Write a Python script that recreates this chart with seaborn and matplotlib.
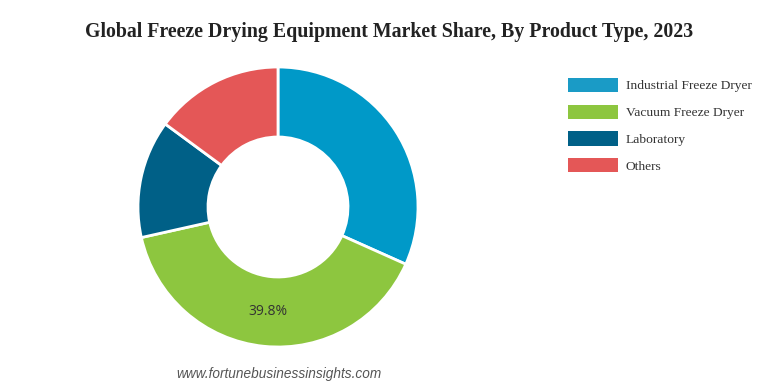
import matplotlib
matplotlib.use("Agg")
import matplotlib.pyplot as plt
import seaborn as sns
from matplotlib.patches import Patch

categories = ["Industrial Freeze Dryer", "Vacuum Freeze Dryer", "Laboratory", "Others"]
shares = [31.7, 39.8, 13.6, 14.9]
colors = ["#0099C8", "#8DC63F", "#006087", "#E45757"]
legend_colors = ["#1A9BC6", "#8DC63F", "#006087", "#E45757"]
shown_labels = ["Vacuum Freeze Dryer"]
title = "Global Freeze Drying Equipment Market Share, By Product Type, 2023"
source = "www.fortunebusinessinsights.com"

sns.set_theme(style="white")
plt.rcParams["font.family"] = ["Liberation Serif", "DejaVu Serif"]

W, H = 778, 387
fig = plt.figure(figsize=(W / 100, H / 100), dpi=100)
fig.patch.set_facecolor("white")

cx, cy, r = 278, 207, 140
ax = fig.add_axes([(cx - r) / W, (H - cy - r) / H, 2 * r / W, 2 * r / H])
ax.axis("off")

pal = sns.color_palette(colors)

def fmt_factory():
    idx = {"i": 0}
    def fmt(p):
        lab = categories[idx["i"]]
        idx["i"] += 1
        return f"{p:.1f}%" if lab in shown_labels else ""
    return fmt

wedges, texts, autotexts = ax.pie(
    shares, colors=pal, startangle=90, counterclock=False, radius=1.0,
    wedgeprops=dict(width=0.5, edgecolor="white", linewidth=2),
    autopct=fmt_factory(), pctdistance=0.75,
    textprops=dict(fontsize=10, color="#333333", family=["Open Sans", "DejaVu Sans"]),
)
ax.set_xlim(-1, 1)
ax.set_ylim(-1, 1)
ax.set_aspect("equal")
ax.axis("off")

fig.text(0.5, 1 - 32 / H, title, ha="center", va="center",
         fontsize=14.3, fontweight="bold", color="#222222")

handles = [Patch(facecolor=c, edgecolor="none") for c in legend_colors]
fig.legend(handles, categories, loc="upper left",
           bbox_to_anchor=(557 / W, 1 - 67 / H), frameon=False,
           fontsize=9.7, handlelength=3.7, handleheight=1.25,
           handletextpad=0.6, labelspacing=0.9, borderpad=0.3,
           labelcolor="#333333")

fig.text(176 / W, 1 - 374 / H, source, ha="left", va="center",
         fontsize=9.8, style="italic", color="#555555",
         family=["Liberation Sans", "DejaVu Sans"])

fig.savefig("out.png", dpi=100, facecolor="white")
